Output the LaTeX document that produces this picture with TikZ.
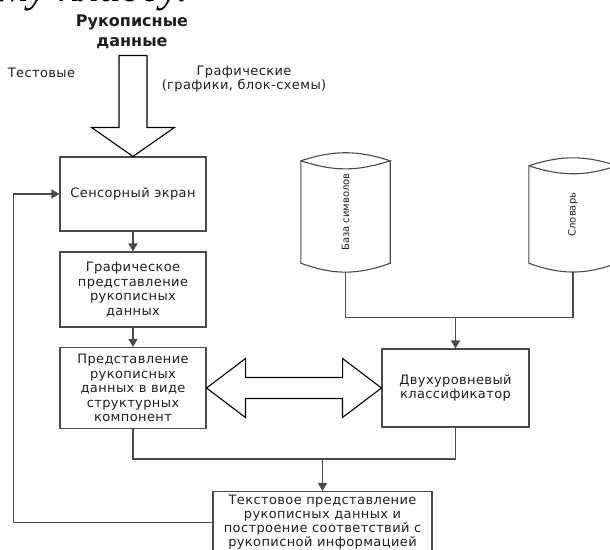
\documentclass[tikz,border=0pt]{standalone}
\usepackage{fontspec}
\setmainfont{DejaVu Sans}
\newfontfamily\boxfont[LetterSpace=3]{DejaVu Sans}
\newfontfamily\pagefont{Liberation Serif}
\usetikzlibrary{arrows.meta,positioning}
\definecolor{lngray}{HTML}{4A4A4A}
\definecolor{txtgray}{HTML}{1E1E1E}

\begin{document}
\begin{tikzpicture}[x=1pt, y=1pt,
    box/.style={draw=lngray, line width=1.1pt, minimum width=146pt, align=center, font=\boxfont\fontsize{13}{14.5}\selectfont, text=txtgray, inner sep=2pt},
    arr/.style={-{Triangle[length=8pt,width=9pt]}, draw=lngray, line width=1.3pt},
    ln/.style={draw=lngray, line width=1.3pt},
    fat/.style={draw=black, line width=1.1pt, fill=white, line join=miter},
    cylb/.style={draw=lngray, line width=1.1pt},
    lbl/.style={font=\boxfont\fontsize{13}{14}\selectfont, text=txtgray, align=center},
    cyltxt/.style={font=\fontsize{10}{12}\selectfont, text=txtgray, inner sep=0pt}
]
\useasboundingbox (0,0) rectangle (610,-549);
\clip (0,0) rectangle (610,-549);
\node[anchor=base west, inner sep=0pt, font=\pagefont\itshape\fontsize{44}{44}\selectfont] (pg) at (0,-1.5) {му классу.};

% inputs
\node[font=\bfseries\fontsize{16}{20}\selectfont, align=center, text=txtgray] (ttl) at (132,-32) {Рукописные\\данные};
\node[lbl] (tst) at (41.5,-73) {Тестовые};
\node[lbl] (grf) at (244,-79) {Графические\\(графики, блок-схемы)};

% blocks
\node[box, minimum height=74pt] (scr) at (133,-194) {Сенсорный экран};
\node[box, minimum height=75pt] (gfx) at (133,-289.5) {Графическое\\представление\\рукописных\\данных};
\node[box, minimum height=81pt] (pred) at (133,-388) {Представление\\рукописных\\данных в виде\\структурных\\компонент};
\node[box, minimum width=147pt, minimum height=78pt] (cls) at (455.5,-388) {Двухуровневый\\классификатор};
\node[box, font=\boxfont\fontsize{13}{14}\selectfont, minimum width=219pt, minimum height=62pt] (txt) at (322.5,-522.5) {Текстовое представление\\рукописных данных и\\построение соответствий с\\рукописной информацией};

% databases
\node[cyltxt, minimum width=89pt, minimum height=102pt] (sym) at (345.5,-212) {\rotatebox{90}{База символов}};
\node[cyltxt, minimum width=88pt, minimum height=97pt] (dic) at (573,-214.5) {\rotatebox{90}{Словарь}};
\draw[cylb] (sym.north west) to[bend left=18] (sym.north east) to[bend left=18] (sym.north west)
    -- (sym.south west) to[bend right=20] (sym.south east) -- (sym.north east);
\draw[cylb] (dic.north west) to[bend left=18] (dic.north east) to[bend left=18] (dic.north west)
    -- (dic.south west) to[bend right=20] (dic.south east) -- (dic.north east);

% wide arrows
\draw[fat] (scr.north) -- ++(-41.5,29) -- ++(27.5,0) -- ++(0,72) -- ++(28,0) -- ++(0,-72) -- ++(27.5,0) -- cycle;
\draw[fat] (pred.east) -- ++(39,29.5) -- ++(0,-19) -- ++(97,0) -- ++(0,19) -- (cls.west)
    -- ++(-39,-29.5) -- ++(0,19) -- ++(-97,0) -- ++(0,-19) -- cycle;

% connectors
\draw[arr] (scr.south) -- (gfx.north);
\draw[arr] (gfx.south) -- (pred.north);
\draw[ln] ([yshift=-9pt]sym.south) -- ++(0,-45) coordinate (jc) -| ([yshift=-9pt]dic.south);
\draw[arr] (jc -| cls.north) -- (cls.north);
\draw[ln] (pred.south) -- ++(0,-30) coordinate (jb) -| (cls.south);
\draw[arr] (jb -| txt.north) -- (txt.north);
\draw[arr] (txt.west) -- ++(-199,0) |- (scr.west);
\end{tikzpicture}
\end{document}
